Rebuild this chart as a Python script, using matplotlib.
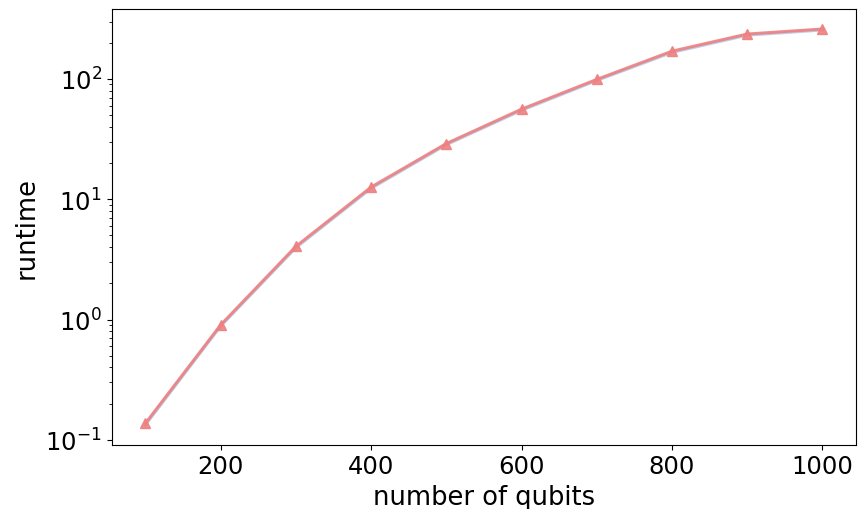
import matplotlib
matplotlib.use("Agg")
import matplotlib.pyplot as plt

qubits = [100, 200, 300, 400, 500, 600, 700, 800, 900, 1000]
runtime_a = [0.137, 0.90, 4.05, 12.6, 29.0, 56.0, 99.0, 170.0, 236.0, 260.0]
runtime_b = [0.133, 0.88, 3.95, 12.3, 28.4, 54.8, 97.0, 166.0, 231.0, 255.0]

fig, ax = plt.subplots(figsize=(8.58, 5.1), dpi=100)

ax.plot(qubits, runtime_b, color="#a9c4e6", linewidth=2.2, alpha=0.8)
ax.plot(qubits, runtime_a, color="#ee8080", linewidth=2.2, marker="^",
        markersize=7, alpha=0.9)

ax.set_yscale("log")
ax.set_xlabel("number of qubits", fontsize=18.5)
ax.set_ylabel("runtime", fontsize=18.5)
ax.tick_params(axis="both", labelsize=17.5)
ax.set_xticks([200, 400, 600, 800, 1000])

plt.subplots_adjust(left=0.13, right=0.998, top=0.98, bottom=0.126)
plt.savefig("out.png")
